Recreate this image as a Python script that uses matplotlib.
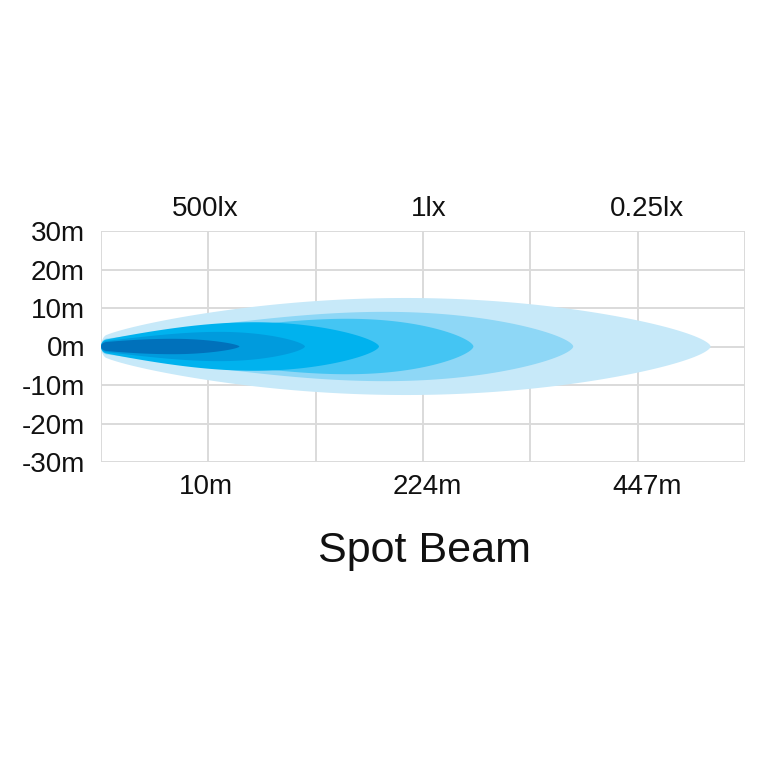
import numpy as np
import matplotlib
matplotlib.use("Agg")
import matplotlib.pyplot as plt

# ---- data ----
y_ticks = [30, 20, 10, 0, -10, -20, -30]
y_labels = ["30m", "20m", "10m", "0m", "-10m", "-20m", "-30m"]
bottom_pos = [0.98, 3.04, 5.09]
bottom_labels = ["10m", "224m", "447m"]
top_pos = [0.97, 3.05, 5.09]
top_labels = ["500lx", "1lx", "0.25lx"]
title = "Spot Beam"

# beam layers (outer -> inner): length along x (grid units), max half-width (m),
# position of the widest point (fraction of length), half-width of the rounded nose (m)
beam_lengths = [5.68, 4.40, 3.47, 2.59, 1.90, 1.29]
beam_halfwidths = [12.6, 9.0, 7.2, 6.3, 3.8, 2.0]
beam_peaks = [0.50, 0.60, 0.66, 0.55, 0.58, 0.52]
beam_noses = [2.2, 1.9, 1.7, 1.5, 1.3, 1.0]
beam_colors = ["#c7e9f9", "#8ed7f6", "#44c5f3", "#00b2ee", "#009bdd", "#0071bb"]
left_exp = [0.72, 0.78, 0.8, 0.8, 0.8, 0.8]

plt.rcParams["font.family"] = ["Liberation Sans", "DejaVu Sans"]

fig = plt.figure(figsize=(7.68, 7.68), dpi=100)
ax = fig.add_axes([101 / 768, 1 - 462 / 768, (745 - 101) / 768, (462 - 231) / 768])
ax.set_xlim(0, 6)
ax.set_ylim(-30, 30)

# grid
for gx in range(0, 7):
    ax.axvline(gx, color="#dadada", lw=1.4, zorder=0)
for gy in y_ticks:
    ax.axhline(gy, color="#dadada", lw=1.4, zorder=0)

t = np.linspace(0, 1, 1500)
xn = 0.05
for L, W, pk, n, pl, col in zip(beam_lengths, beam_halfwidths, beam_peaks, beam_noses,
                                left_exp, beam_colors):
    k = np.log(0.5) / np.log(pk)
    u = t ** k
    s = np.clip(np.sin(np.pi * u), 0, 1)
    x = t * L
    r = np.clip(x / xn, 0, 1)
    left = n * np.sqrt(1 - (1 - r) ** 2) + (W - n) * s ** pl
    right = W * s ** 0.62
    hf = np.where(u < 0.5, left, right)
    xs = np.concatenate([x, x[::-1]])
    ys = np.concatenate([hf, -hf[::-1]])
    ax.fill(xs, ys, color=col, lw=0, zorder=2)

for s_ in ax.spines.values():
    s_.set_visible(False)

ax.set_yticks(y_ticks)
ax.set_yticklabels(y_labels)
ax.set_xticks(bottom_pos)
ax.set_xticklabels(bottom_labels)
ax.tick_params(axis="both", length=0, labelsize=20, colors="#111111")
ax.tick_params(axis="y", pad=11.5)
ax.tick_params(axis="x", pad=9)

sec = ax.secondary_xaxis("top")
sec.set_xticks(top_pos)
sec.set_xticklabels(top_labels)
sec.tick_params(length=0, labelsize=20, pad=6.5, colors="#111111")
for s_ in sec.spines.values():
    s_.set_visible(False)

fig.text(425 / 768, 1 - 551 / 768, title, ha="center", va="center", fontsize=31, color="#111111")

fig.savefig("out.png", dpi=100, facecolor="white")
